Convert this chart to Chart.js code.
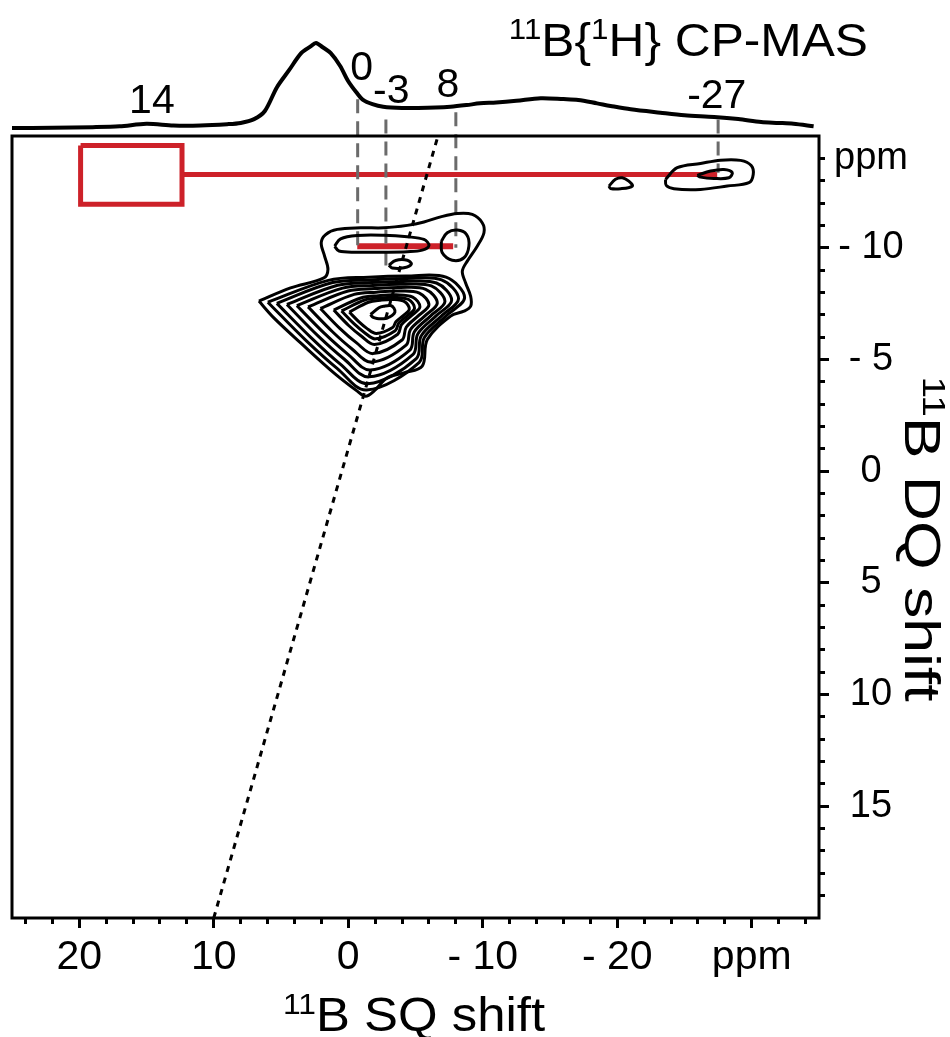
<!DOCTYPE html>
<html>
<head>
<meta charset="utf-8">
<script src="https://cdn.jsdelivr.net/npm/chart.js@4.4.1/dist/chart.umd.min.js"></script>
<style>
  html, body { margin: 0; padding: 0; background: #fff; }
</style>
</head>
<body>
<canvas id="nmrChart" width="950" height="1037"></canvas>
<script>
// 1) Values (all in ppm)

const FONT = "'Liberation Sans', Arial, Helvetica, sans-serif";

// top projection, 11B{1H} CP-MAS
const projShift = [25, 22, 19, 17, 15, 13, 11, 9, 8, 7, 6.2, 5.3, 4.4, 3.5, 2.8, 2.4, 1.9, 1.3, 0.6, 0, -0.6, -1.1, -1.8, -2.6, -4, -5.2, -6.5, -7.6, -8.8, -9.8, -11, -12.5, -14.3, -16, -17.1, -18.5, -19.5, -21, -23.2, -25, -27.2, -29, -30.7, -32, -33.1, -34.6];
const projIntensity = [0, 0.003, 0.01, 0.02, 0.05, 0.03, 0.03, 0.045, 0.06, 0.105, 0.2, 0.48, 0.68, 0.88, 0.96, 1.0, 0.95, 0.88, 0.73, 0.55, 0.42, 0.33, 0.28, 0.25, 0.235, 0.235, 0.24, 0.25, 0.27, 0.29, 0.3, 0.32, 0.35, 0.34, 0.33, 0.29, 0.26, 0.22, 0.18, 0.15, 0.13, 0.105, 0.07, 0.06, 0.05, 0.02];

// peak labels on the projection
const peakLabels = ["14", "0", "-3", "8", "-27"];
const peakShift = [14.6, -1.0, -3.2, -7.4, -27.4];

// axis ticks
const xMajorTicks = [20, 10, 0, -10, -20, -30];
const xMajorLabels = ["20", "10", "0", "- 10", "- 20", "ppm"];
const yMajorTicks = [-14, -10, -5, 0, 5, 10, 15];
const yMajorLabels = ["ppm", "- 10", "- 5", "0", "5", "10", "15"];

// contours [SQ, DQ]
const contourOuter = [
  [6.64, -7.61], [4.29, -8.20], [1.81, -8.65], [1.51, -9.03], [1.76, -9.62], [2.01, -10.22],
  [1.68, -10.59], [0.82, -10.82], [-0.92, -10.89], [-2.65, -10.89], [-4.39, -11.00],
  [-5.63, -11.15], [-6.87, -11.38], [-8.11, -11.53], [-9.22, -11.49], [-9.96, -11.12],
  [-10.09, -10.67], [-9.59, -10.07], [-8.85, -9.40], [-8.48, -8.95], [-8.72, -8.43],
  [-9.10, -7.83], [-9.10, -7.38], [-8.60, -7.16], [-7.61, -6.94], [-5.88, -5.89],
  [-5.50, -4.70], [-4.14, -4.40], [-2.90, -4.18], [-1.91, -3.58], [-1.29, -3.35],
  [-0.67, -3.58], [1.07, -4.40], [3.54, -5.74], [5.53, -6.86], [6.64, -7.61]
];
const blobContours = [
  [[5.98, -7.56], [1.48, -8.54], [-1.51, -8.68], [-4.29, -8.73], [-7.27, -8.68], [-8.65, -7.77], [-7.26, -6.94], [-5.65, -5.97], [-5.28, -4.87], [-1.37, -3.63], [0.83, -4.60], [3.11, -5.83], [5.98, -7.56]],
  [[5.31, -7.51], [1.16, -8.44], [-1.61, -8.56], [-4.19, -8.62], [-6.94, -8.56], [-8.20, -7.72], [-6.92, -6.94], [-5.42, -6.05], [-5.06, -5.04], [-1.45, -3.91], [0.59, -4.79], [2.69, -5.93], [5.31, -7.51]],
  [[4.56, -7.46], [0.79, -8.32], [-1.72, -8.44], [-4.08, -8.49], [-6.56, -8.42], [-7.69, -7.65], [-6.53, -6.95], [-5.17, -6.14], [-4.82, -5.23], [-1.54, -4.22], [0.31, -5.02], [2.21, -6.03], [4.56, -7.46]],
  [[3.82, -7.41], [0.42, -8.19], [-1.83, -8.31], [-3.97, -8.36], [-6.18, -8.29], [-7.19, -7.59], [-6.13, -6.95], [-4.91, -6.23], [-4.58, -5.42], [-1.63, -4.53], [0.04, -5.24], [1.73, -6.14], [3.82, -7.41]],
  [[2.99, -7.35], [0.01, -8.06], [-1.96, -8.17], [-3.84, -8.22], [-5.76, -8.14], [-6.62, -7.52], [-5.70, -6.95], [-4.62, -6.33], [-4.30, -5.64], [-1.73, -4.88], [-0.26, -5.48], [1.19, -6.25], [2.99, -7.35]],
  [[2.07, -7.28], [-0.44, -7.91], [-2.09, -8.01], [-3.71, -8.06], [-5.29, -7.97], [-6.00, -7.44], [-5.22, -6.96], [-4.31, -6.44], [-4.00, -5.87], [-1.83, -5.26], [-0.60, -5.75], [0.61, -6.38], [2.07, -7.28]],
  [[1.08, -7.21], [-0.93, -7.75], [-2.24, -7.85], [-3.56, -7.89], [-4.79, -7.79], [-5.33, -7.35], [-4.70, -6.96], [-3.96, -6.56], [-3.68, -6.13], [-1.95, -5.67], [-0.96, -6.05], [-0.03, -6.52], [1.08, -7.21]],
  [[0.50, -7.17], [-1.22, -7.66], [-2.33, -7.75], [-3.47, -7.78], [-4.49, -7.68], [-4.93, -7.30], [-4.40, -6.96], [-3.76, -6.63], [-3.49, -6.28], [-2.02, -5.92], [-1.17, -6.22], [-0.40, -6.61], [0.50, -7.17]],
  [[-0.08, -7.12], [-1.50, -7.56], [-2.41, -7.65], [-3.39, -7.68], [-4.20, -7.58], [-4.54, -7.25], [-4.09, -6.96], [-3.56, -6.70], [-3.30, -6.43], [-2.09, -6.16], [-1.38, -6.39], [-0.78, -6.69], [-0.08, -7.12]],
  [[-1.66, -7.01], [-2.28, -7.31], [-2.65, -7.38], [-3.15, -7.41], [-3.40, -7.29], [-3.47, -7.12], [-3.27, -6.97], [-3.02, -6.89], [-2.78, -6.83], [-2.28, -6.82], [-1.96, -6.86], [-1.79, -6.91], [-1.66, -7.01]]
];
const upperLeftLoop = [[1.01, -10.07], [0.57, -10.40], [-0.67, -10.55], [-2.65, -10.56], [-4.39, -10.49], [-5.63, -10.37], [-6.00, -10.10], [-5.50, -9.89], [-4.39, -9.82], [-2.65, -9.80], [-0.67, -9.80], [0.69, -9.85], [1.01, -10.07]];
const upperRightLoop = [[-6.92, -10.29], [-7.36, -10.67], [-8.11, -10.79], [-8.80, -10.59], [-8.97, -10.07], [-8.60, -9.55], [-7.73, -9.44], [-6.99, -9.77], [-6.92, -10.29]];
const smallLoop = [[-3.02, -9.22], [-3.52, -9.43], [-4.39, -9.44], [-4.69, -9.27], [-4.14, -9.10], [-3.27, -9.09], [-3.02, -9.22]];
const peak27Outer = [[-23.59, -13.06], [-24.46, -13.58], [-26.19, -13.77], [-27.68, -13.92], [-29.17, -13.91], [-29.96, -13.68], [-30.11, -13.28], [-29.79, -12.91], [-28.18, -12.76], [-26.19, -12.61], [-24.21, -12.64], [-23.64, -12.79], [-23.59, -13.06]];
const peak27Inner = [[-25.95, -13.24], [-26.94, -13.43], [-27.93, -13.50], [-28.55, -13.36], [-28.30, -13.13], [-27.18, -13.10], [-26.19, -13.16], [-25.95, -13.24]];
const peak20Loop = [[-19.38, -12.76], [-19.87, -13.06], [-20.37, -13.13], [-20.86, -12.98], [-21.12, -12.76], [-20.25, -12.64], [-19.50, -12.65], [-19.38, -12.76]];

// diagonal (dotted) and guide lines (dashed)
const diagShift = [10, -6.67];
const diagDQ = [20, -15];
const guideShift = [-0.7, -2.8, -8.0, -27.5];
const guideTop = [-16.64, -15.74, -16.06, -15.74];
const guideBottom = [-10.0, -8.94, -10.0, -13.36];

// red markers
const redBox = [[19.9, -14.58], [12.36, -14.58], [12.36, -11.94], [19.9, -11.94], [19.9, -14.58]];
const redLineTop = [[12.36, -13.28], [-27.43, -13.28]];
const redLineMid = [[-0.67, -10.06], [-7.8, -10.06]];


// 2) Build datasets

function pts(list) {
    return list.map((p) => ({ x: p[0], y: p[1] }));
}

function contour(list) {
    return { data: pts(list), showLine: true, borderColor: "#000", borderWidth: 3, pointRadius: 0, tension: 0.35 };
}

const datasets = [];

datasets.push(contour(contourOuter));
blobContours.forEach((c) => datasets.push(contour(c)));
[upperLeftLoop, upperRightLoop, smallLoop, peak27Outer, peak27Inner, peak20Loop].forEach((c) => datasets.push(contour(c)));

datasets.push({
    data: pts([[diagShift[0], diagDQ[0]], [diagShift[1], diagDQ[1]]]),
    showLine: true, borderColor: "#000", borderWidth: 3, borderDash: [6, 6], pointRadius: 0
});

guideShift.forEach((s, i) => {
    datasets.push({
        data: [{ x: s, y: guideTop[i] }, { x: s, y: guideBottom[i] }],
        showLine: true, borderColor: "#6b6b6b", borderWidth: 3, borderDash: [14, 8], pointRadius: 0, clip: false
    });
});

datasets.push({ data: pts(redBox), showLine: true, borderColor: "#cd2129", borderWidth: 5, pointRadius: 0 });
datasets.push({ data: pts(redLineTop), showLine: true, borderColor: "#cd2129", borderWidth: 5, pointRadius: 0 });
datasets.push({ data: pts(redLineMid), showLine: true, borderColor: "#cd2129", borderWidth: 6, pointRadius: 0 });

datasets.push({
    data: projShift.map((s, i) => ({ x: s, y: projIntensity[i] })),
    yAxisID: "yp", showLine: true, borderColor: "#000", borderWidth: 4, pointRadius: 0, tension: 0.3, clip: false
});


// 3) Text with superscripts, frame, peak labels

function drawRich(ctx, parts, x, y, align, size, stretch) {
    const supSize = Math.round(size * 0.62);
    let w = 0;
    const widths = parts.map((p) => {
        ctx.font = (p.sup ? supSize : size) + "px " + FONT;
        const pw = ctx.measureText(p.t).width;
        w += pw;
        return pw;
    });
    ctx.save();
    ctx.translate(x, y);
    ctx.scale(stretch, 1);
    let cx = align === "center" ? -w / 2 : (align === "right" ? -w : 0);
    ctx.textAlign = "left";
    ctx.textBaseline = "alphabetic";
    ctx.fillStyle = "#000";
    parts.forEach((p, i) => {
        ctx.font = (p.sup ? supSize : size) + "px " + FONT;
        ctx.fillText(p.t, cx, p.sup ? -size * 0.36 : 0);
        cx += widths[i];
    });
    ctx.restore();
}

const decorPlugin = {
    id: "decor",
    afterDraw(chart) {
        const { ctx, chartArea: a, scales } = chart;

        ctx.save();
        ctx.lineWidth = 3;
        ctx.strokeStyle = "#000";
        ctx.strokeRect(a.left, a.top, a.right - a.left, a.bottom - a.top);
        ctx.restore();

        // peak labels above the projection
        const labelBase = [113, 80, 103, 97, 108];
        ctx.save();
        ctx.font = "41px " + FONT;
        ctx.fillStyle = "#000";
        ctx.textAlign = "center";
        peakLabels.forEach((t, i) => {
            ctx.fillText(t, scales.x.getPixelForValue(peakShift[i]), labelBase[i]);
        });
        ctx.restore();

        // title and axis titles
        drawRich(ctx, [{ t: "11", sup: true }, { t: "B{" }, { t: "1", sup: true }, { t: "H} CP-MAS" }], 868, 56, "right", 46, 1.08);
        drawRich(ctx, [{ t: "11", sup: true }, { t: "B SQ shift" }], 414, 1031, "center", 48, 1.06);

        ctx.save();
        ctx.translate(905, 539);
        ctx.rotate(Math.PI / 2);
        drawRich(ctx, [{ t: "11", sup: true }, { t: "B DQ shift" }], 0, 0, "center", 50, 1.25);
        ctx.restore();
    }
};


// 4) Chart

function tickList(from, to, step) {
    const out = [];
    for (let v = from; step > 0 ? v <= to : v >= to; v += step) out.push({ value: v });
    return out;
}

new Chart(document.getElementById("nmrChart"), {

    type: "scatter",

    data: { datasets: datasets },

    options: {
        responsive: false,
        animation: false,
        layout: { padding: { left: 12, top: 136, right: 0, bottom: 0 } },
        elements: { line: { capBezierPoints: false } },
        plugins: { legend: { display: false }, tooltip: { enabled: false } },
        scales: {
            x: {
                type: "linear", min: -35, max: 25, reverse: true, position: "bottom",
                afterBuildTicks: (s) => { s.ticks = tickList(24, -34, -2); },
                afterFit: (s) => { s.height = 119; },
                border: { display: false },
                grid: {
                    drawOnChartArea: false, drawTicks: true, tickLength: 10, tickWidth: 3, tickColor: "#000",
                    tickBorderDash: (c) => (c.tick && c.tick.value % 10 === 0 ? [] : [6, 40])
                },
                ticks: {
                    autoSkip: false, maxRotation: 0, padding: 5, color: "#000",
                    font: { family: FONT, size: 41 },
                    callback: (v) => { const i = xMajorTicks.indexOf(v); return i >= 0 ? xMajorLabels[i] : ""; }
                }
            },
            y: {
                type: "linear", min: -15, max: 20, reverse: true, position: "right",
                afterBuildTicks: (s) => { s.ticks = tickList(-14, 19, 1); },
                afterFit: (s) => { s.width = 131; },
                border: { display: false },
                grid: {
                    drawOnChartArea: false, drawTicks: true, tickLength: 10, tickWidth: 3, tickColor: "#000",
                    tickBorderDash: (c) => (c.tick && c.tick.value % 5 === 0 ? [] : [6, 40])
                },
                ticks: {
                    autoSkip: false, padding: 5, crossAlign: "center", color: "#000",
                    font: { family: FONT, size: 38 },
                    callback: (v) => { const i = yMajorTicks.indexOf(v); return i >= 0 ? yMajorLabels[i] : ""; }
                }
            },
            yp: { type: "linear", min: -9.294, max: -0.094, display: false }
        }
    },

    plugins: [decorPlugin]

});
</script>
</body>
</html>
